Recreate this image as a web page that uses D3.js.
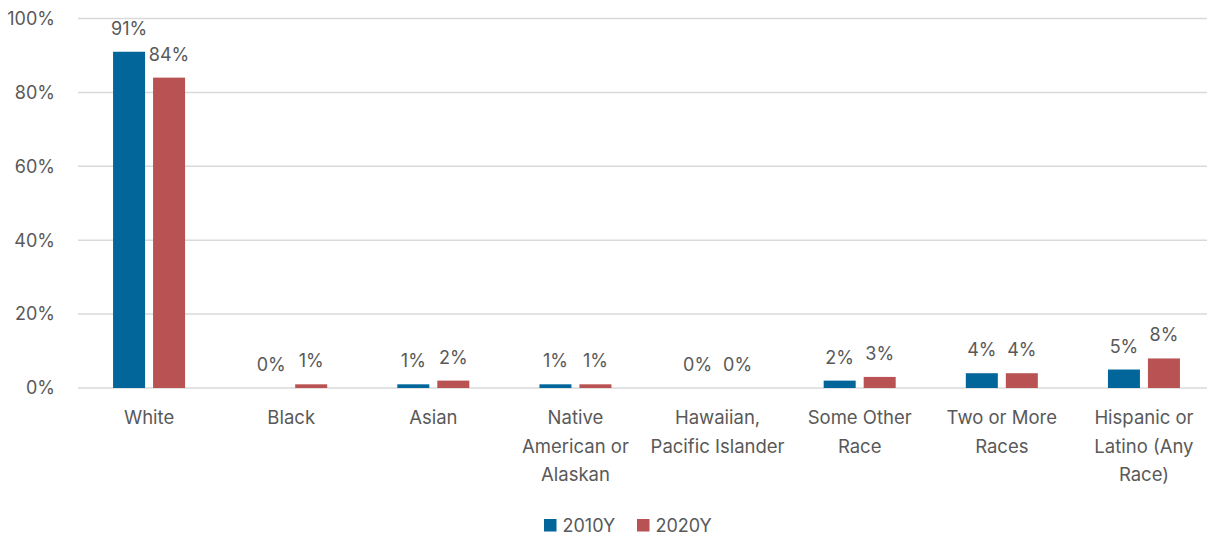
<!DOCTYPE html>
<html>
<head>
<meta charset="utf-8">
<script src="https://cdn.jsdelivr.net/npm/d3@7"></script>
<style>
  body { margin: 0; background: #fff; }
  svg text { font-family: Inter, "Open Sans", sans-serif; fill: #595959; }
</style>
</head>
<body>
<script>
// chart data
var categories = ["White", "Black", "Asian", "Native\nAmerican or\nAlaskan", "Hawaiian,\nPacific Islander",
  "Some Other\nRace", "Two or More\nRaces", "Hispanic or\nLatino (Any\nRace)"];
var seriesNames = ["2010Y", "2020Y"];
var values2010 = [91, 0, 1, 1, 0, 2, 4, 5];
var values2020 = [84, 1, 2, 1, 0, 3, 4, 8];
var yTicks = [0, 20, 40, 60, 80, 100];
var colors = ["#03669b", "#b95253"];

var width = 1207, height = 535;
var margin = {top: 18.5, bottom: 147, left: 78};
var plotRight = 1215; // last band runs slightly past the edge

var svg = d3.select("body").append("svg").attr("width", width).attr("height", height);

var x0 = d3.scaleBand().domain(d3.range(categories.length))
  .range([margin.left, plotRight]).padding(0);
var x1 = d3.scaleBand().domain(seriesNames).range([-36, 36]).paddingInner(0.2);
var y = d3.scaleLinear().domain([0, 100]).range([height - margin.bottom, margin.top]);

// gridlines
svg.append("g").selectAll("line").data(yTicks).enter().append("line")
  .attr("x1", margin.left).attr("x2", width)
  .attr("y1", function (d) { return y(d); }).attr("y2", function (d) { return y(d); })
  .attr("stroke", "#d9d9d9").attr("stroke-width", 1.5);

// y axis labels
svg.append("g").selectAll("text").data(yTicks).enter().append("text")
  .attr("x", 55).attr("y", function (d) { return y(d); })
  .attr("dy", "0.35em").attr("text-anchor", "end")
  .style("font-size", "18px")
  .text(function (d) { return d + "%"; });

var rows = categories.map(function (c, i) {
  return {i: i, vals: [values2010[i], values2020[i]]};
});

var groups = svg.append("g").selectAll("g").data(rows).enter().append("g")
  .attr("transform", function (d) { return "translate(" + (x0(d.i) + x0.bandwidth() / 2) + ",0)"; });

groups.selectAll("rect").data(function (d) {
  return d.vals.map(function (v, k) { return {k: k, v: v}; });
}).enter().append("rect")
  .attr("x", function (d) { return x1(seriesNames[d.k]); })
  .attr("width", x1.bandwidth())
  .attr("y", function (d) { return y(d.v); })
  .attr("height", function (d) { return y(0) - y(d.v); })
  .attr("fill", function (d) { return colors[d.k]; });

groups.selectAll("text.val").data(function (d) {
  return d.vals.map(function (v, k) { return {k: k, v: v}; });
}).enter().append("text").attr("class", "val")
  .attr("x", function (d) { return x1(seriesNames[d.k]) + x1.bandwidth() / 2; })
  .attr("y", function (d) { return y(d.v) - 17; })
  .attr("text-anchor", "middle")
  .style("font-size", "18px")
  .text(function (d) { return d.v + "%"; });

// category labels
groups.append("text").attr("text-anchor", "middle").style("font-size", "18.5px")
  .each(function (d) {
    var t = d3.select(this);
    categories[d.i].split("\n").forEach(function (line, j) {
      t.append("tspan").attr("x", 0).attr("y", 424 + j * 28.5).text(line);
    });
  });

// legend
var legend = svg.append("g").selectAll("g").data(seriesNames).enter().append("g")
  .attr("transform", function (d, i) { return "translate(" + (544 + i * 93) + ",519)"; });
legend.append("rect").attr("width", 12.5).attr("height", 12.5)
  .attr("fill", function (d, i) { return colors[i]; });
legend.append("text").attr("x", 18.5).attr("y", 12.5)
  .style("font-size", "18px").text(function (d) { return d; });
</script>
</body>
</html>
